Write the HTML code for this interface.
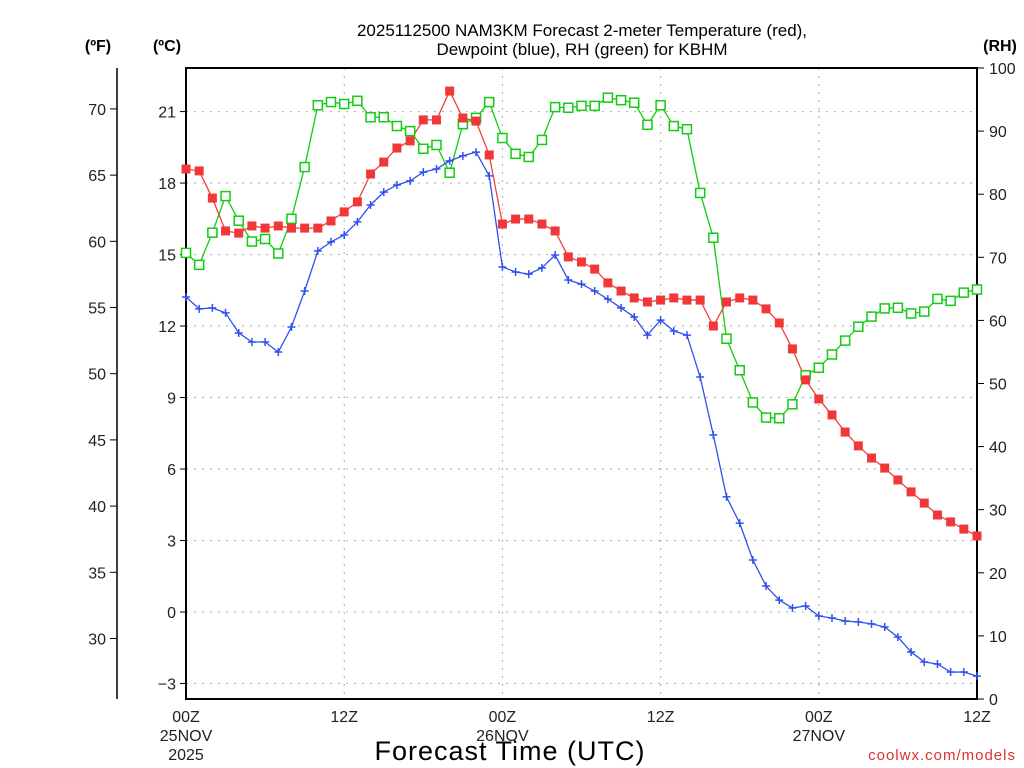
<!DOCTYPE html>
<html><head><meta charset="utf-8"><style>
body{margin:0;background:#fff;}
svg{display:block;font-family:"Liberation Sans",sans-serif;}
</style></head><body>
<svg id="chart" width="1024" height="768" xmlns="http://www.w3.org/2000/svg">
<g id="grid"></g>
<g id="axes"></g>
<g id="series"></g>
<text x="582" y="36" text-anchor="middle" font-size="17">2025112500 NAM3KM Forecast 2-meter Temperature (red),</text>
<text x="582" y="55" text-anchor="middle" font-size="17">Dewpoint (blue), RH (green) for KBHM</text>
<text x="98" y="51" text-anchor="middle" font-size="16" font-weight="bold">(ºF)</text>
<text x="167" y="51" text-anchor="middle" font-size="16" font-weight="bold">(ºC)</text>
<text x="1000" y="51" text-anchor="middle" font-size="16" font-weight="bold">(RH)</text>
<text x="510" y="760" text-anchor="middle" font-size="27" letter-spacing="1">Forecast Time (UTC)</text>
<text x="1016" y="760" text-anchor="end" font-size="15" fill="#e03030" letter-spacing="1">coolwx.com/models</text>
</svg>
<script>
const temps=[18.59,18.51,17.37,15.99,15.90,16.20,16.11,16.20,16.11,16.11,16.11,16.41,16.79,17.21,18.38,18.88,19.47,19.77,20.65,20.65,21.86,20.73,20.60,19.18,16.28,16.49,16.49,16.28,15.99,14.90,14.69,14.39,13.81,13.47,13.18,13.01,13.09,13.18,13.09,13.09,12.00,13.01,13.18,13.09,12.72,12.13,11.04,9.74,8.94,8.27,7.55,6.97,6.46,6.04,5.54,5.04,4.57,4.07,3.78,3.48,3.19];
const dewpts=[13.22,12.72,12.76,12.55,11.71,11.33,11.33,10.91,11.96,13.47,15.15,15.53,15.82,16.37,17.08,17.62,17.92,18.09,18.46,18.59,18.93,19.14,19.30,18.30,14.48,14.27,14.18,14.44,14.98,13.93,13.76,13.47,13.13,12.76,12.38,11.62,12.25,11.79,11.62,9.86,7.43,4.83,3.73,2.18,1.09,0.50,0.17,0.25,-0.17,-0.25,-0.38,-0.42,-0.50,-0.63,-1.05,-1.68,-2.10,-2.18,-2.52,-2.52,-2.69];
const rhs=[70.7,68.8,73.9,79.7,75.8,72.5,72.9,70.6,76.1,84.3,94.1,94.6,94.3,94.8,92.2,92.2,90.8,90.0,87.2,87.8,83.4,91.1,92.1,94.6,88.9,86.4,85.9,88.6,93.8,93.7,94.0,94.0,95.3,94.9,94.5,91.0,94.1,90.8,90.3,80.2,73.1,57.1,52.1,47.0,44.6,44.5,46.7,51.3,52.5,54.6,56.8,59.0,60.6,61.9,62.0,61.1,61.4,63.4,63.1,64.4,64.9];
const cTicks=[-3,0,3,6,9,12,15,18,21];
const fTicks=[30,35,40,45,50,55,60,65,70];
const rhTicks=[0,10,20,30,40,50,60,70,80,90,100];
const xTickHours=[0,12,24,36,48,60];
const xTickLabels=[["00Z","25NOV","2025"],["12Z"],["00Z","26NOV"],["12Z"],["00Z","27NOV"],["12Z"]];

const X0=186,X1=977,Y0=68,Y1=699;
const xs=h=>X0+(X1-X0)*h/60;
const yC=c=>612-23.83*c;
const yF=f=>yC((f-32)*5/9);
const yRH=r=>Y1-(Y1-Y0)*r/100;
const NS="http://www.w3.org/2000/svg";
function mk(p,t,a){const e=document.createElementNS(NS,t);for(const k in a)e.setAttribute(k,a[k]);p.appendChild(e);return e;}
const grid=document.getElementById('grid'),axes=document.getElementById('axes'),ser=document.getElementById('series');

cTicks.forEach(c=>{
 const y=yC(c);
 const g=mk(grid,'line',{x1:X0,x2:X1,y1:y,y2:y,stroke:'#aaa','stroke-dasharray':'2,6'});
 
 
 const t=mk(axes,'line',{x1:X0-6,x2:X0,y1:y,y2:y,stroke:'#000'});
 
 
 const l=mk(axes,'text',{x:X0-10,y:y+6,'text-anchor':'end','font-size':16,fill:'#222'});
 l.textContent=c<0?'\u2212'+Math.abs(c):c;
 
 
});
fTicks.forEach(f=>{
 const y=yF(f);
 const t=mk(axes,'line',{x1:110,x2:117,y1:y,y2:y,stroke:'#000'});
 
 
 const l=mk(axes,'text',{x:106,y:y+6,'text-anchor':'end','font-size':16,fill:'#222'});
 l.textContent=f;
 
 
});
rhTicks.forEach(r=>{
 const y=yRH(r);
 const t=mk(axes,'line',{x1:X1,x2:X1+7,y1:y,y2:y,stroke:'#000'});
 
 
 const l=mk(axes,'text',{x:X1+12,y:y+6,'text-anchor':'start','font-size':16,fill:'#222'});
 l.textContent=r;
 
 
});
xTickHours.forEach((h,i)=>{
 const x=xs(h);
 if(h>0&&h<60){const g=mk(grid,'line',{x1:x,x2:x,y1:Y0,y2:Y1,stroke:'#aaa','stroke-dasharray':'2,6'});
 
 }
 xTickLabels[i].forEach((s,j)=>{
  const l=mk(axes,'text',{x:x,y:722+j*19,'text-anchor':'middle','font-size':16,fill:'#222'});
  l.textContent=s;
  
  
 });
});
const fr=mk(axes,'rect',{x:X0,y:Y0,width:X1-X0,height:Y1-Y0,fill:'none',stroke:'#000','stroke-width':2});


const fa=mk(axes,'line',{x1:117,x2:117,y1:Y0,y2:Y1,stroke:'#000','stroke-width':1.5});



function line(vals,yf,color,name){
 const p=mk(ser,'polyline',{points:vals.map((v,i)=>xs(i)+','+yf(v)).join(' '),fill:'none',stroke:color,'stroke-width':1.3});
 
 
}
line(rhs,yRH,'#11cc11','rh');
line(temps,yC,'#f04040','temperature');
line(dewpts,yC,'#3050f0','dewpoint');
rhs.forEach((v,i)=>{const m=mk(ser,'rect',{x:xs(i)-4.5,y:yRH(v)-4.5,width:9,height:9,fill:'#fff',stroke:'#11cc11','stroke-width':1.5});
 
 });
temps.forEach((v,i)=>{const m=mk(ser,'rect',{x:xs(i)-4.5,y:yC(v)-4.5,width:9,height:9,fill:'#f03838'});
 
 });
dewpts.forEach((v,i)=>{const x=xs(i),y=yC(v);const m=mk(ser,'path',{d:`M${x-4},${y}H${x+4}M${x},${y-4}V${y+4}`,stroke:'#3050f0','stroke-width':1.5});
 
 });
</script>
</body></html>
